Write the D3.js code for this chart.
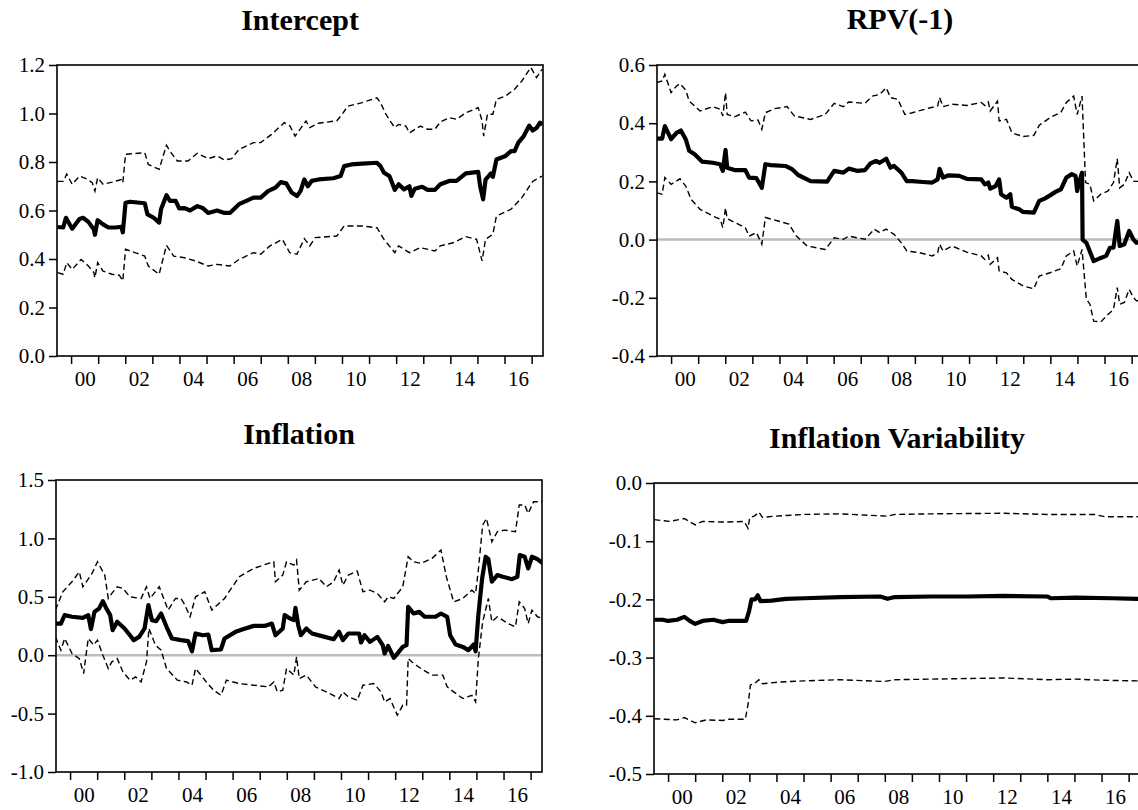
<!DOCTYPE html>
<html>
<head>
<meta charset="utf-8">
<script src="https://cdn.jsdelivr.net/npm/d3@7"></script>
<style>
  body { margin: 0; background: #fff; }
  svg { display: block; }
</style>
</head>
<body>
<div id="chart"></div>
<script>
// x axis: yearly ticks, labels every other year
const yearTicks = [2000, 2001, 2002, 2003, 2004, 2005, 2006, 2007, 2008, 2009, 2010, 2011, 2012, 2013, 2014, 2015, 2016, 2017];
const yearLabels = ['00', '02', '04', '06', '08', '10', '12', '14', '16'];

// y ticks per panel
const interceptTicks = [0, 0.2, 0.4, 0.6, 0.8, 1.0, 1.2];
const rpvTicks = [-0.4, -0.2, 0, 0.2, 0.4, 0.6];
const inflationTicks = [-1.0, -0.5, 0, 0.5, 1.0, 1.5];
const variabilityTicks = [-0.5, -0.4, -0.3, -0.2, -0.1, 0];

// [decimal year, value]
const interceptEst = [[1999.50,0.532],[1999.71,0.53],[1999.81,0.57],[2000.04,0.525],[2000.31,0.565],[2000.44,0.57],[2000.64,0.553],[2000.84,0.522],[2000.88,0.50],[2000.98,0.56],[2001.18,0.543],[2001.38,0.53],[2001.65,0.53],[2001.85,0.533],[2001.91,0.51],[2002.01,0.632],[2002.18,0.636],[2002.72,0.63],[2002.82,0.584],[2003.05,0.57],[2003.25,0.55],[2003.32,0.605],[2003.52,0.663],[2003.65,0.64],[2003.86,0.64],[2003.99,0.609],[2004.19,0.61],[2004.39,0.60],[2004.66,0.618],[2004.86,0.61],[2005.06,0.59],[2005.39,0.60],[2005.66,0.59],[2005.86,0.59],[2006.20,0.626],[2006.47,0.64],[2006.73,0.653],[2007.00,0.653],[2007.27,0.68],[2007.54,0.694],[2007.74,0.717],[2007.94,0.712],[2008.14,0.674],[2008.34,0.66],[2008.47,0.68],[2008.61,0.728],[2008.74,0.70],[2008.88,0.722],[2009.14,0.728],[2009.68,0.733],[2009.95,0.742],[2010.08,0.783],[2010.35,0.79],[2010.75,0.793],[2011.29,0.797],[2011.42,0.783],[2011.55,0.756],[2011.75,0.742],[2011.95,0.685],[2012.09,0.708],[2012.29,0.687],[2012.49,0.70],[2012.56,0.66],[2012.69,0.69],[2012.96,0.698],[2013.16,0.685],[2013.43,0.685],[2013.63,0.708],[2013.96,0.722],[2014.23,0.722],[2014.57,0.753],[2015.03,0.759],[2015.10,0.70],[2015.21,0.646],[2015.30,0.727],[2015.50,0.753],[2015.57,0.739],[2015.70,0.81],[2016.04,0.825],[2016.24,0.845],[2016.37,0.845],[2016.51,0.88],[2016.71,0.907],[2016.91,0.95],[2017.04,0.93],[2017.18,0.94],[2017.31,0.962],[2017.40,0.955]];
const interceptUpper = [[1999.50,0.72],[1999.71,0.72],[1999.84,0.75],[2000.04,0.708],[2000.31,0.742],[2000.58,0.73],[2000.78,0.715],[2000.88,0.68],[2000.98,0.735],[2001.18,0.708],[2001.51,0.717],[2001.85,0.728],[2001.91,0.715],[2002.01,0.832],[2002.72,0.838],[2002.85,0.79],[2003.25,0.77],[2003.52,0.869],[2003.65,0.845],[2003.92,0.804],[2004.32,0.804],[2004.66,0.836],[2005.06,0.814],[2005.39,0.825],[2005.66,0.808],[2005.93,0.814],[2006.20,0.852],[2006.73,0.88],[2007.00,0.88],[2007.40,0.914],[2007.87,0.962],[2008.07,0.95],[2008.27,0.907],[2008.67,0.969],[2008.81,0.942],[2009.14,0.96],[2009.81,0.97],[2010.01,0.997],[2010.21,1.03],[2010.75,1.045],[2011.29,1.065],[2011.42,1.045],[2011.62,0.997],[2011.82,0.962],[2011.95,0.942],[2012.09,0.955],[2012.36,0.948],[2012.49,0.92],[2012.89,0.948],[2013.16,0.935],[2013.43,0.935],[2013.63,0.965],[2013.96,0.983],[2014.23,0.976],[2014.57,1.003],[2015.03,1.024],[2015.17,0.97],[2015.23,0.907],[2015.37,0.997],[2015.57,0.997],[2015.70,1.058],[2016.04,1.072],[2016.37,1.10],[2016.64,1.134],[2016.97,1.19],[2017.18,1.148],[2017.38,1.182]];
const interceptLower = [[1999.50,0.344],[1999.71,0.337],[1999.84,0.385],[2000.04,0.357],[2000.37,0.398],[2000.64,0.371],[2000.84,0.344],[2000.88,0.323],[2000.98,0.385],[2001.18,0.35],[2001.51,0.337],[2001.78,0.333],[2001.91,0.31],[2002.01,0.44],[2002.72,0.412],[2002.85,0.371],[2003.25,0.337],[2003.52,0.456],[2003.79,0.412],[2004.19,0.405],[2004.59,0.392],[2005.06,0.371],[2005.39,0.378],[2005.86,0.371],[2006.20,0.398],[2006.73,0.426],[2007.00,0.42],[2007.34,0.454],[2007.80,0.481],[2008.07,0.426],[2008.34,0.42],[2008.61,0.484],[2008.81,0.454],[2009.01,0.488],[2009.81,0.495],[2010.08,0.536],[2010.75,0.536],[2011.29,0.529],[2011.55,0.481],[2011.95,0.426],[2012.09,0.454],[2012.49,0.426],[2012.89,0.447],[2013.43,0.433],[2013.63,0.454],[2014.10,0.467],[2014.57,0.492],[2014.97,0.481],[2015.17,0.392],[2015.30,0.481],[2015.57,0.502],[2015.70,0.577],[2016.24,0.605],[2016.64,0.653],[2017.04,0.72],[2017.38,0.742]];

const rpvEst = [[1999.46,0.347],[1999.67,0.347],[1999.77,0.39],[2000.00,0.345],[2000.20,0.367],[2000.36,0.375],[2000.54,0.345],[2000.67,0.305],[2000.87,0.293],[2001.14,0.268],[2001.54,0.264],[2001.81,0.259],[2001.91,0.236],[2002.01,0.308],[2002.07,0.247],[2002.34,0.239],[2002.74,0.239],[2002.88,0.213],[2003.15,0.211],[2003.35,0.178],[2003.48,0.259],[2003.68,0.256],[2004.22,0.253],[2004.48,0.241],[2004.69,0.222],[2005.15,0.201],[2005.76,0.199],[2006.02,0.236],[2006.36,0.23],[2006.56,0.244],[2006.89,0.236],[2007.16,0.239],[2007.36,0.262],[2007.56,0.27],[2007.70,0.264],[2007.94,0.278],[2008.10,0.247],[2008.23,0.253],[2008.50,0.23],[2008.70,0.201],[2008.90,0.201],[2009.30,0.198],[2009.64,0.196],[2009.84,0.207],[2009.91,0.243],[2010.04,0.213],[2010.24,0.221],[2010.64,0.219],[2010.91,0.209],[2011.45,0.207],[2011.58,0.19],[2011.71,0.196],[2011.78,0.175],[2011.98,0.184],[2012.11,0.207],[2012.18,0.156],[2012.38,0.144],[2012.52,0.156],[2012.58,0.113],[2012.85,0.104],[2012.99,0.095],[2013.39,0.093],[2013.59,0.133],[2013.79,0.141],[2013.99,0.152],[2014.19,0.164],[2014.39,0.173],[2014.59,0.213],[2014.79,0.225],[2014.93,0.219],[2014.99,0.167],[2015.06,0.196],[2015.17,0.23],[2015.19,0.0],[2015.33,-0.011],[2015.60,-0.074],[2015.86,-0.063],[2016.06,-0.056],[2016.20,-0.028],[2016.33,-0.028],[2016.47,0.064],[2016.56,-0.022],[2016.73,-0.016],[2016.91,0.03],[2017.07,0.0],[2017.18,-0.011],[2017.40,-0.005]];
const rpvUpper = [[1999.46,0.539],[1999.67,0.545],[1999.77,0.568],[2000.00,0.505],[2000.20,0.528],[2000.33,0.536],[2000.54,0.514],[2000.67,0.476],[2001.07,0.442],[2001.54,0.457],[2001.81,0.448],[2001.91,0.425],[2002.01,0.505],[2002.07,0.43],[2002.34,0.422],[2002.74,0.438],[2002.95,0.408],[2003.21,0.411],[2003.35,0.379],[2003.48,0.436],[2003.82,0.45],[2004.28,0.457],[2004.55,0.425],[2005.15,0.413],[2005.69,0.43],[2006.02,0.468],[2006.36,0.457],[2006.56,0.473],[2007.16,0.468],[2007.43,0.493],[2007.70,0.499],[2007.94,0.522],[2008.10,0.488],[2008.37,0.482],[2008.63,0.43],[2008.90,0.436],[2009.57,0.453],[2009.84,0.459],[2009.91,0.488],[2010.04,0.457],[2010.37,0.465],[2010.91,0.461],[2011.45,0.471],[2011.58,0.461],[2011.71,0.473],[2011.78,0.442],[2012.05,0.476],[2012.11,0.408],[2012.38,0.413],[2012.58,0.367],[2012.99,0.354],[2013.39,0.358],[2013.59,0.393],[2013.99,0.419],[2014.39,0.438],[2014.59,0.471],[2014.86,0.493],[2014.99,0.43],[2015.17,0.493],[2015.30,0.196],[2015.46,0.19],[2015.60,0.133],[2015.86,0.156],[2016.13,0.167],[2016.33,0.196],[2016.47,0.278],[2016.56,0.178],[2016.73,0.19],[2016.91,0.23],[2017.07,0.201],[2017.18,0.2],[2017.40,0.2]];
const rpvLower = [[1999.46,0.161],[1999.67,0.156],[1999.77,0.213],[2000.00,0.19],[2000.33,0.209],[2000.54,0.184],[2000.74,0.138],[2001.07,0.104],[2001.54,0.081],[2001.81,0.07],[2001.91,0.041],[2002.01,0.109],[2002.07,0.072],[2002.48,0.053],[2002.74,0.041],[2002.88,0.012],[2003.15,0.024],[2003.35,-0.016],[2003.48,0.076],[2003.95,0.064],[2004.35,0.053],[2004.62,0.013],[2005.02,-0.022],[2005.69,-0.034],[2006.02,0.006],[2006.36,0.001],[2006.56,0.012],[2007.16,0.001],[2007.50,0.036],[2007.70,0.024],[2007.94,0.036],[2008.23,0.018],[2008.50,-0.011],[2008.70,-0.039],[2009.17,-0.045],[2009.64,-0.056],[2009.84,-0.045],[2009.91,-0.016],[2010.04,-0.039],[2010.37,-0.022],[2010.91,-0.043],[2011.45,-0.056],[2011.58,-0.068],[2011.71,-0.054],[2011.78,-0.085],[2012.05,-0.062],[2012.11,-0.108],[2012.38,-0.114],[2012.58,-0.137],[2012.99,-0.159],[2013.39,-0.169],[2013.59,-0.125],[2013.99,-0.114],[2014.39,-0.1],[2014.59,-0.056],[2014.86,-0.039],[2014.99,-0.091],[2015.17,-0.034],[2015.33,-0.205],[2015.46,-0.222],[2015.60,-0.28],[2015.86,-0.283],[2016.13,-0.257],[2016.33,-0.24],[2016.47,-0.165],[2016.56,-0.222],[2016.73,-0.216],[2016.91,-0.171],[2017.07,-0.2],[2017.18,-0.21],[2017.40,-0.21]];

const inflationEst = [[1999.46,0.271],[1999.66,0.271],[1999.80,0.343],[2000.07,0.329],[2000.47,0.32],[2000.67,0.343],[2000.77,0.223],[2000.90,0.371],[2001.07,0.40],[2001.21,0.463],[2001.34,0.40],[2001.48,0.343],[2001.57,0.214],[2001.74,0.286],[2002.01,0.229],[2002.21,0.171],[2002.35,0.129],[2002.55,0.157],[2002.75,0.229],[2002.89,0.429],[2003.02,0.30],[2003.18,0.291],[2003.36,0.357],[2003.56,0.243],[2003.76,0.143],[2004.09,0.129],[2004.36,0.12],[2004.50,0.034],[2004.63,0.186],[2004.90,0.171],[2005.10,0.177],[2005.23,0.043],[2005.57,0.049],[2005.70,0.143],[2006.11,0.20],[2006.38,0.223],[2006.78,0.251],[2007.18,0.251],[2007.45,0.271],[2007.58,0.171],[2007.85,0.229],[2007.92,0.343],[2008.12,0.314],[2008.26,0.30],[2008.32,0.406],[2008.42,0.257],[2008.52,0.171],[2008.72,0.229],[2008.93,0.186],[2009.40,0.157],[2009.73,0.137],[2009.93,0.20],[2010.07,0.129],[2010.27,0.186],[2010.67,0.186],[2010.74,0.109],[2010.87,0.171],[2011.07,0.114],[2011.34,0.157],[2011.54,0.086],[2011.61,0.014],[2011.74,0.08],[2011.95,-0.023],[2012.08,0.014],[2012.28,0.071],[2012.42,0.086],[2012.48,0.414],[2012.68,0.357],[2012.89,0.371],[2013.09,0.329],[2013.49,0.329],[2013.69,0.357],[2013.92,0.329],[2014.03,0.171],[2014.23,0.091],[2014.50,0.071],[2014.70,0.043],[2014.90,0.091],[2014.97,0.034],[2015.07,0.343],[2015.21,0.657],[2015.34,0.843],[2015.44,0.823],[2015.57,0.629],[2015.77,0.686],[2015.97,0.671],[2016.31,0.651],[2016.51,0.671],[2016.60,0.857],[2016.78,0.843],[2016.91,0.743],[2017.05,0.843],[2017.25,0.823],[2017.45,0.786]];
const inflationUpper = [[1999.46,0.386],[1999.73,0.543],[2000.07,0.629],[2000.34,0.714],[2000.47,0.586],[2000.81,0.70],[2001.01,0.80],[2001.28,0.686],[2001.41,0.486],[2001.54,0.529],[2001.74,0.586],[2001.95,0.571],[2002.21,0.50],[2002.62,0.486],[2002.82,0.586],[2002.95,0.486],[2003.29,0.586],[2003.62,0.386],[2003.89,0.486],[2004.09,0.486],[2004.23,0.434],[2004.43,0.329],[2004.63,0.50],[2004.97,0.543],[2005.23,0.386],[2005.70,0.486],[2006.24,0.671],[2006.78,0.743],[2007.32,0.786],[2007.52,0.80],[2007.58,0.629],[2007.85,0.686],[2007.99,0.80],[2008.26,0.771],[2008.36,0.814],[2008.46,0.557],[2008.72,0.629],[2009.19,0.657],[2009.46,0.586],[2009.73,0.629],[2009.93,0.729],[2010.07,0.60],[2010.27,0.686],[2010.60,0.72],[2010.81,0.543],[2011.07,0.557],[2011.34,0.529],[2011.61,0.457],[2011.74,0.50],[2011.95,0.486],[2012.28,0.586],[2012.48,0.843],[2012.68,0.80],[2012.95,0.786],[2013.36,0.829],[2013.69,0.90],[2013.89,0.671],[2014.16,0.457],[2014.50,0.486],[2014.83,0.557],[2014.97,0.529],[2015.07,0.729],[2015.23,1.114],[2015.37,1.171],[2015.57,0.971],[2015.77,1.057],[2016.04,1.071],[2016.44,1.057],[2016.58,1.286],[2016.78,1.286],[2016.91,1.214],[2017.11,1.314],[2017.45,1.314]];
const inflationLower = [[1999.46,0.157],[1999.66,0.043],[1999.80,0.143],[2000.07,0.014],[2000.34,-0.029],[2000.50,-0.157],[2000.67,0.143],[2000.87,0.086],[2001.01,0.129],[2001.21,0.0],[2001.41,-0.114],[2001.54,-0.057],[2001.74,-0.029],[2001.95,-0.143],[2002.21,-0.214],[2002.42,-0.186],[2002.62,-0.229],[2002.82,-0.057],[2002.91,0.229],[2003.15,0.086],[2003.36,0.043],[2003.56,-0.114],[2003.96,-0.214],[2004.30,-0.229],[2004.50,-0.257],[2004.63,-0.114],[2005.03,-0.229],[2005.30,-0.30],[2005.57,-0.343],[2005.77,-0.214],[2006.24,-0.243],[2006.78,-0.257],[2007.32,-0.271],[2007.52,-0.229],[2007.65,-0.314],[2007.85,-0.30],[2007.99,-0.114],[2008.26,-0.171],[2008.36,-0.014],[2008.46,-0.20],[2008.72,-0.171],[2009.06,-0.271],[2009.46,-0.314],[2009.93,-0.371],[2010.07,-0.314],[2010.27,-0.357],[2010.60,-0.386],[2010.81,-0.257],[2011.21,-0.243],[2011.48,-0.314],[2011.61,-0.40],[2011.81,-0.371],[2012.08,-0.514],[2012.28,-0.429],[2012.42,-0.429],[2012.48,-0.029],[2012.68,-0.071],[2012.95,-0.114],[2013.36,-0.171],[2013.76,-0.171],[2013.92,-0.271],[2014.16,-0.314],[2014.50,-0.371],[2014.83,-0.343],[2014.97,-0.40],[2015.07,-0.029],[2015.23,0.286],[2015.44,0.486],[2015.57,0.286],[2015.77,0.329],[2016.17,0.271],[2016.44,0.243],[2016.58,0.457],[2016.78,0.40],[2016.91,0.271],[2017.05,0.386],[2017.25,0.329],[2017.45,0.314]];

const variabilityEst = [[1999.49,-0.235],[1999.80,-0.235],[2000.00,-0.237],[2000.33,-0.235],[2000.60,-0.23],[2000.80,-0.237],[2001.00,-0.242],[2001.27,-0.237],[2001.67,-0.235],[2002.01,-0.239],[2002.21,-0.237],[2002.88,-0.237],[2002.99,-0.22],[2003.08,-0.20],[2003.21,-0.20],[2003.31,-0.193],[2003.41,-0.203],[2003.82,-0.202],[2004.35,-0.199],[2005.02,-0.198],[2006.36,-0.196],[2007.83,-0.195],[2008.10,-0.199],[2008.37,-0.196],[2009.71,-0.195],[2011.04,-0.195],[2012.38,-0.194],[2013.99,-0.195],[2014.12,-0.198],[2015.06,-0.197],[2016.40,-0.198],[2017.31,-0.199],[2017.42,-0.199]];
const variabilityUpper = [[1999.49,-0.063],[2000.07,-0.066],[2000.60,-0.061],[2001.00,-0.072],[2001.27,-0.066],[2001.94,-0.067],[2002.21,-0.067],[2002.81,-0.066],[2002.95,-0.078],[2003.01,-0.06],[2003.21,-0.056],[2003.35,-0.05],[2003.48,-0.059],[2003.95,-0.057],[2005.02,-0.054],[2006.36,-0.053],[2008.10,-0.057],[2008.37,-0.054],[2009.71,-0.053],[2012.38,-0.052],[2013.99,-0.054],[2015.73,-0.054],[2016.13,-0.058],[2017.31,-0.058],[2017.42,-0.058]];
const variabilityLower = [[1999.49,-0.405],[2000.33,-0.407],[2000.60,-0.403],[2001.00,-0.412],[2001.41,-0.407],[2002.01,-0.408],[2002.21,-0.406],[2002.85,-0.406],[2002.95,-0.381],[2003.04,-0.347],[2003.21,-0.344],[2003.35,-0.338],[2003.48,-0.345],[2004.08,-0.342],[2005.02,-0.34],[2006.36,-0.338],[2007.97,-0.341],[2008.37,-0.338],[2009.71,-0.337],[2012.38,-0.335],[2013.99,-0.338],[2015.06,-0.337],[2016.13,-0.339],[2017.31,-0.34],[2017.42,-0.34]];

const width = 1138, height = 810;
const plotW = 486;
const serif = '"Liberation Serif", "DejaVu Serif", serif';

const panels = [
  { title: 'Intercept', left: 57, top: 65, bottom: 356, titleY: 30, domain: [0, 1.2], ticks: interceptTicks,
    est: interceptEst, upper: interceptUpper, lower: interceptLower, zero: false },
  { title: 'RPV(-1)', left: 657, top: 65, bottom: 356, titleY: 29, domain: [-0.4, 0.6], ticks: rpvTicks,
    est: rpvEst, upper: rpvUpper, lower: rpvLower, zero: true },
  { title: 'Inflation', left: 56, top: 480, bottom: 772, titleY: 444, domain: [-1.0, 1.5], ticks: inflationTicks,
    est: inflationEst, upper: inflationUpper, lower: inflationLower, zero: true },
  { title: 'Inflation Variability', left: 654, top: 483, bottom: 774, titleY: 448, domain: [-0.5, 0], ticks: variabilityTicks,
    est: variabilityEst, upper: variabilityUpper, lower: variabilityLower, zero: true }
];

const svg = d3.select('#chart').append('svg')
  .attr('width', width)
  .attr('height', height);

svg.append('rect').attr('width', width).attr('height', height).attr('fill', '#fff');

panels.forEach((p, k) => {
  const x = d3.scaleLinear().domain([1999.48, 2017.42]).range([p.left, p.left + plotW]);
  const y = d3.scaleLinear().domain(p.domain).range([p.bottom, p.top]);

  svg.append('clipPath').attr('id', 'clip' + k)
    .append('rect')
    .attr('x', p.left).attr('y', p.top)
    .attr('width', plotW).attr('height', p.bottom - p.top);

  // title
  svg.append('text')
    .attr('x', p.left + plotW / 2)
    .attr('y', p.titleY)
    .attr('text-anchor', 'middle')
    .style('font-family', serif)
    .style('font-size', '30px')
    .style('font-weight', 'bold')
    .text(p.title);

  const plot = svg.append('g').attr('clip-path', 'url(#clip' + k + ')');

  if (p.zero) {
    plot.append('line')
      .attr('x1', p.left).attr('x2', p.left + plotW)
      .attr('y1', y(0)).attr('y2', y(0))
      .attr('stroke', '#bdbdbd')
      .attr('stroke-width', 2.5);
  }

  const line = d3.line().x(d => x(d[0])).y(d => y(d[1]));

  [p.upper, p.lower].forEach(s => {
    plot.append('path')
      .datum(s)
      .attr('d', line)
      .attr('fill', 'none')
      .attr('stroke', '#000')
      .attr('stroke-width', 1.4)
      .attr('stroke-dasharray', '6,3.5');
  });

  plot.append('path')
    .datum(p.est)
    .attr('d', line)
    .attr('fill', 'none')
    .attr('stroke', '#000')
    .attr('stroke-width', 4.2)
    .attr('stroke-linejoin', 'round');

  // frame
  svg.append('rect')
    .attr('x', p.left).attr('y', p.top)
    .attr('width', plotW).attr('height', p.bottom - p.top)
    .attr('fill', 'none')
    .attr('stroke', '#000')
    .attr('stroke-width', 1.6);

  // y axis
  const yAxis = svg.append('g')
    .attr('transform', 'translate(' + p.left + ',0)')
    .call(d3.axisLeft(y).tickValues(p.ticks).tickSize(8).tickPadding(4).tickFormat(d => d.toFixed(1)));
  yAxis.select('.domain').remove();
  yAxis.selectAll('line').attr('stroke-width', 1.5);
  yAxis.selectAll('text').style('font-family', serif).style('font-size', '21px');

  // x axis ticks (every year)
  const xAxis = svg.append('g')
    .attr('transform', 'translate(0,' + p.bottom + ')')
    .call(d3.axisBottom(x).tickValues(yearTicks).tickSize(8).tickFormat(''));
  xAxis.select('.domain').remove();
  xAxis.selectAll('line').attr('stroke-width', 1.5);

  // x labels (centred inside the labelled year)
  const labelYears = yearLabels.map(s => 2000 + (+s) + 0.5);
  const xLab = svg.append('g')
    .attr('transform', 'translate(0,' + p.bottom + ')')
    .call(d3.axisBottom(x).tickValues(labelYears).tickSize(0).tickPadding(15)
      .tickFormat((d, i) => yearLabels[i]));
  xLab.select('.domain').remove();
  xLab.selectAll('text').style('font-family', serif).style('font-size', '21px');
});
</script>
</body>
</html>
